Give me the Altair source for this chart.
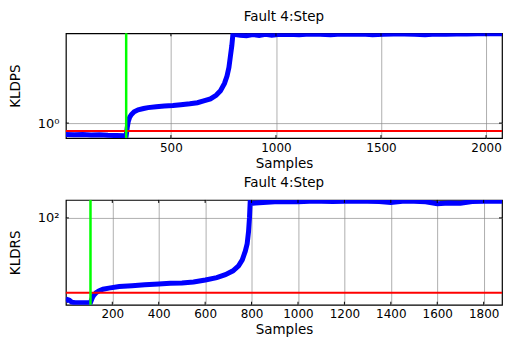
import altair as alt
import pandas as pd

# ---------------- data ----------------
top_x = [0, 40, 80, 120, 160, 200, 240, 280, 287, 292, 297, 304, 312, 325, 344, 370,
         391, 430, 469, 510, 547, 590, 626, 660, 688, 715, 736, 755, 767, 776, 783, 790,
         795, 800, 830, 860, 890, 920, 950, 980, 1010, 1060, 1110, 1160, 1210, 1260, 1310,
         1360, 1410, 1460, 1510, 1560, 1610, 1660, 1710, 1760, 1810, 1860, 1910, 1960,
         2010, 2060, 2076]
top_y = [0.77, 0.765, 0.77, 0.76, 0.765, 0.755, 0.75, 0.745, 0.75, 0.90, 1.04, 1.15,
         1.22, 1.30, 1.36, 1.40, 1.43, 1.46, 1.48, 1.50, 1.53, 1.56, 1.60, 1.68, 1.75,
         1.90, 2.11, 2.50, 2.96, 3.60, 4.65, 6.00, 7.70, 7.75, 7.60, 7.50, 7.70, 7.55,
         7.75, 7.60, 7.70, 7.75, 7.70, 7.80, 7.75, 7.70, 7.80, 7.75, 7.80, 7.70, 7.75,
         7.80, 7.80, 7.75, 7.70, 7.80, 7.75, 7.80, 7.80, 7.85, 7.85, 7.85, 7.85]
top_fault = 287
top_threshold = 0.835
top_xticks = [500, 1000, 1500, 2000]

bot_x = [0, 8, 15, 25, 40, 60, 80, 100, 106, 110, 115, 120, 130, 142, 160, 185, 230,
         285, 340, 400, 450, 500, 550, 601, 650, 687, 720, 744, 760, 773, 781, 787, 791,
         794, 800, 816, 850, 900, 950, 1000, 1050, 1100, 1150, 1200, 1250, 1300, 1350,
         1400, 1450, 1500, 1550, 1600, 1650, 1700, 1750, 1800, 1850, 1879]
bot_y = [14.5, 15.2, 15.0, 14.3, 14.1, 14.1, 14.1, 14.1, 14.2, 15.0, 16.0, 16.8, 17.8,
         18.5, 19.3, 19.8, 20.5, 20.9, 21.4, 21.8, 22.1, 22.3, 22.8, 23.9, 25.2, 27.0,
         29.5, 33.1, 38.0, 46.4, 55.0, 73.0, 100.0, 143.6, 140.0, 141.0, 143.0, 145.0,
         146.0, 145.5, 146.5, 147.0, 146.0, 147.0, 146.5, 147.0, 146.0, 142.5, 146.5,
         147.0, 145.0, 139.0, 141.0, 140.0, 146.0, 147.0, 147.5, 147.0]
bot_fault = 106
bot_threshold = 17.8
bot_xticks = [200, 400, 600, 800, 1000, 1200, 1400, 1600, 1800]

FONT = "DejaVu Sans"
W, H = 437, 105


def panel(xs, ys, fault, thr, xdom, xticks, ydom, ytick, ylabel, ytitle):
    df = pd.DataFrame({"s": xs, "v": ys})
    xsc = alt.Scale(domain=xdom, nice=False, zero=False)
    ysc = alt.Scale(type="log", domain=ydom, nice=False)
    xax = alt.Axis(values=xticks, format="d", grid=True, gridColor="#8c8c8c",
                   gridWidth=0.7, domain=False, ticks=False, labelFontSize=12,
                   labelFont=FONT, labelColor="black", labelPadding=4,
                   title="Samples", titleFont=FONT, titleFontSize=13.5,
                   titleFontWeight="normal", titleColor="black", titlePadding=3,
                   labelFlush=False)
    yax = alt.Axis(values=[ytick], labelExpr=f"'{ylabel}'", grid=True,
                   gridColor="#8c8c8c", gridWidth=0.7, domain=False, ticks=False,
                   labelFontSize=13, labelFont=FONT, labelColor="black",
                   labelPadding=7, title=ytitle, titleFont=FONT, titleFontSize=13.5,
                   titleFontWeight="normal", titleColor="black", titlePadding=14.5)
    line = alt.Chart(df).mark_line(color="#0000ff", strokeWidth=5, clip=True).encode(
        x=alt.X("s:Q", scale=xsc, axis=xax),
        y=alt.Y("v:Q", scale=ysc, axis=yax),
    )
    red = alt.Chart(pd.DataFrame({"v": [thr]})).mark_rule(
        color="#ff0000", strokeWidth=2).encode(y=alt.Y("v:Q", scale=ysc))
    green = alt.Chart(pd.DataFrame({"s": [fault]})).mark_rule(
        color="#00ff00", strokeWidth=2.5).encode(x=alt.X("s:Q", scale=xsc))
    xt = pd.DataFrame({"s": xticks})
    yt = pd.DataFrame({"v": [ytick]})
    tick_top = alt.Chart(xt).mark_rule(color="black", strokeWidth=1).encode(
        x=alt.X("s:Q", scale=xsc), y=alt.value(0), y2=alt.value(3))
    tick_bot = alt.Chart(xt).mark_rule(color="black", strokeWidth=1).encode(
        x=alt.X("s:Q", scale=xsc), y=alt.value(H - 3), y2=alt.value(H))
    tick_l = alt.Chart(yt).mark_rule(color="black", strokeWidth=1).encode(
        y=alt.Y("v:Q", scale=ysc), x=alt.value(0), x2=alt.value(3))
    tick_r = alt.Chart(yt).mark_rule(color="black", strokeWidth=1).encode(
        y=alt.Y("v:Q", scale=ysc), x=alt.value(W - 3), x2=alt.value(W))
    return alt.layer(line, red, green, tick_top, tick_bot, tick_l, tick_r).properties(
        width=W, height=H,
        title=alt.TitleParams("Fault 4:Step", font=FONT, fontSize=13.5,
                              fontWeight="normal", color="black", offset=9),
    )


top = panel(top_x, top_y, top_fault, top_threshold, [0, 2076],
            top_xticks, [10 ** -0.15, 10 ** 0.9], 1, "10⁰", "KLDPS")
bot = panel(bot_x, bot_y, bot_fault, bot_threshold, [0, 1879],
            bot_xticks, [10 ** 1.13, 10 ** 2.18], 100, "10²", "KLDRS")

chart = alt.vconcat(top, bot, spacing=4).properties(
    padding={"left": 0, "top": 0, "right": 0, "bottom": 0},
    background="white",
).configure_view(stroke="black", strokeWidth=1.2)

chart.save("out.html", embed_options={"renderer": "svg", "actions": False})
